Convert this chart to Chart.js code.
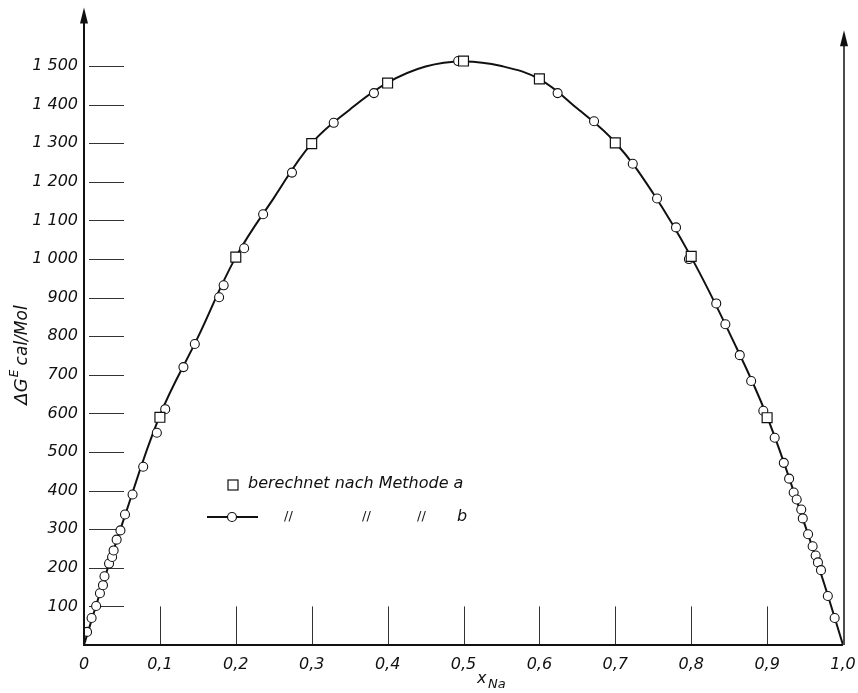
<!DOCTYPE html>
<html lang="de">
  <head>
    <meta charset="UTF-8" />
    <script src="https://cdn.jsdelivr.net/npm/chart.js@4.4.1/dist/chart.umd.min.js"></script>
    <title>Delta G E - x Na</title>
    <style>
      body { margin: 0; background: #fff; }
      #wrap { width: 858px; height: 693px; position: relative; }
    </style>
  </head>
  <body>
    <div id="wrap"><canvas id="chart"></canvas></div>

  <script>
    // Methode a (squares)
    const methodAX = [0.1, 0.2, 0.3, 0.4, 0.5, 0.6, 0.7, 0.8, 0.9];
    const methodAY = [590, 1005, 1299, 1456, 1513, 1467, 1301, 1007, 589];

    // Methode b (circles)
    const methodBX = [0.004, 0.010, 0.016, 0.021, 0.025, 0.027, 0.033, 0.037, 0.039, 0.043,
      0.048, 0.054, 0.064, 0.078, 0.096, 0.107, 0.131, 0.146, 0.178, 0.184,
      0.211, 0.236, 0.274, 0.329, 0.382, 0.493, 0.624, 0.672, 0.723, 0.755,
      0.780, 0.797, 0.833, 0.845, 0.864, 0.879, 0.895, 0.910, 0.922, 0.929,
      0.935, 0.939, 0.945, 0.947, 0.954, 0.960, 0.964, 0.967, 0.971, 0.980, 0.989];
    const methodBY = [34, 70, 101, 134, 155, 178, 211, 228, 245, 273,
      297, 338, 390, 462, 550, 611, 720, 780, 901, 932,
      1028, 1116, 1224, 1353, 1430, 1513, 1430, 1357, 1247, 1157,
      1082, 1000, 885, 831, 751, 684, 607, 537, 472, 431,
      395, 377, 351, 328, 287, 256, 232, 214, 194, 127, 70];

    // smooth curve
    const curveX = [0, 0.025, 0.05, 0.1, 0.15, 0.2, 0.25, 0.3, 0.35, 0.4, 0.45, 0.5,
      0.55, 0.6, 0.65, 0.7, 0.75, 0.8, 0.85, 0.9, 0.95, 0.975, 1];
    const curveY = [0, 160, 312, 595, 797, 1005, 1158, 1300, 1387, 1457, 1499, 1512,
      1500, 1466, 1390, 1302, 1170, 1005, 810, 592, 310, 160, 0];

    const xTicks = [0, 0.1, 0.2, 0.3, 0.4, 0.5, 0.6, 0.7, 0.8, 0.9, 1];
    const yTicks = [100, 200, 300, 400, 500, 600, 700, 800, 900, 1000, 1100, 1200, 1300, 1400, 1500];

    const FONT = '"DejaVu Sans", sans-serif';

    function pts(xs, ys) {
      return xs.map(function (x, i) { return { x: x, y: ys[i] }; });
    }

    function arrowUp(ctx, x, y) {
      ctx.beginPath();
      ctx.moveTo(x, y);
      ctx.lineTo(x - 4, y + 16);
      ctx.lineTo(x + 4, y + 16);
      ctx.closePath();
      ctx.fill();
    }

    const decor = {
      id: 'decor',
      beforeDatasetsDraw: function (chart) {
        const ctx = chart.ctx;
        const xs = chart.scales.x, ys = chart.scales.y;
        const a = chart.chartArea;
        ctx.save();
        ctx.strokeStyle = '#333';
        ctx.lineWidth = 1;
        // short y tick lines
        yTicks.forEach(function (v) {
          const py = Math.round(ys.getPixelForValue(v)) + 0.5;
          ctx.beginPath();
          ctx.moveTo(a.left + 5, py);
          ctx.lineTo(a.left + 40, py);
          ctx.stroke();
        });
        // short x tick lines, up to the 100 level
        xTicks.slice(1, -1).forEach(function (v) {
          const px = Math.round(xs.getPixelForValue(v)) + 0.5;
          ctx.beginPath();
          ctx.moveTo(px, a.bottom);
          ctx.lineTo(px, ys.getPixelForValue(100));
          ctx.stroke();
        });
        ctx.restore();
      },
      afterDraw: function (chart) {
        const ctx = chart.ctx;
        const xs = chart.scales.x, ys = chart.scales.y;
        const a = chart.chartArea;
        ctx.save();
        ctx.strokeStyle = '#111';
        ctx.fillStyle = '#111';
        // axes
        const leftTop = ys.getPixelForValue(1652);
        ctx.lineWidth = 2;
        ctx.beginPath();
        ctx.moveTo(a.left, leftTop + 10);
        ctx.lineTo(a.left, a.bottom);
        ctx.lineTo(a.right, a.bottom);
        ctx.stroke();
        arrowUp(ctx, a.left, leftTop);
        ctx.lineWidth = 1.5;
        const rightTop = ys.getPixelForValue(1593);
        ctx.beginPath();
        ctx.moveTo(a.right + 1, a.bottom);
        ctx.lineTo(a.right + 1, rightTop + 10);
        ctx.stroke();
        arrowUp(ctx, a.right + 1, rightTop);

        // y axis title
        ctx.save();
        ctx.translate(27, 355);
        ctx.rotate(-Math.PI / 2);
        ctx.textBaseline = 'alphabetic';
        ctx.font = 'italic 18px ' + FONT;
        const w1 = ctx.measureText('\u0394G').width;
        ctx.font = 'italic 12px ' + FONT;
        const w2 = ctx.measureText('E').width;
        ctx.font = 'italic 17px ' + FONT;
        const w3 = ctx.measureText(' cal/Mol').width;
        let sx = -(w1 + w2 + w3) / 2;
        ctx.font = 'italic 18px ' + FONT;
        ctx.fillText('\u0394G', sx, 0);
        ctx.font = 'italic 12px ' + FONT;
        ctx.fillText('E', sx + w1 + 1, -9);
        ctx.font = 'italic 17px ' + FONT;
        ctx.fillText(' cal/Mol', sx + w1 + w2, 0);
        ctx.restore();

        // x axis title
        ctx.textBaseline = 'alphabetic';
        ctx.font = 'italic 16px ' + FONT;
        ctx.fillText('x', 477, 683);
        ctx.font = 'italic 13px ' + FONT;
        ctx.fillText('Na', 488, 688);

        // legend
        ctx.lineWidth = 1.2;
        ctx.fillStyle = '#fff';
        ctx.fillRect(228, 480, 10, 10);
        ctx.strokeRect(228, 480, 10, 10);
        ctx.fillStyle = '#111';
        ctx.font = 'italic 16px ' + FONT;
        ctx.textBaseline = 'middle';
        ctx.fillText('berechnet nach Methode a', 248, 484);
        ctx.lineWidth = 2;
        ctx.beginPath();
        ctx.moveTo(207, 517);
        ctx.lineTo(258, 517);
        ctx.stroke();
        ctx.lineWidth = 1.2;
        ctx.beginPath();
        ctx.arc(232, 517, 4.5, 0, Math.PI * 2);
        ctx.fillStyle = '#fff';
        ctx.fill();
        ctx.stroke();
        ctx.fillStyle = '#111';
        ctx.fillText('b', 457, 517);
        ctx.font = '13px ' + FONT;
        ctx.fillText('//', 284, 517);
        ctx.fillText('//', 362, 517);
        ctx.fillText('//', 417, 517);
        ctx.restore();
      }
    };

    const chartEl = document.getElementById('chart');
    var deltaGChart = new Chart(chartEl, {
      type: 'scatter',
      data: {
        datasets: [{
          label: 'berechnet nach Methode a',
          data: pts(methodAX, methodAY),
          pointStyle: 'rect',
          pointRadius: 7,
          pointBackgroundColor: '#fff',
          pointBorderColor: '#111',
          pointBorderWidth: 1.2,
          showLine: false
        }, {
          label: 'berechnet nach Methode b',
          data: pts(methodBX, methodBY),
          pointStyle: 'circle',
          pointRadius: 4.5,
          pointBackgroundColor: '#fff',
          pointBorderColor: '#111',
          pointBorderWidth: 1.1,
          showLine: false
        }, {
          label: 'Kurve',
          data: pts(curveX, curveY),
          showLine: true,
          pointRadius: 0,
          borderColor: '#111',
          borderWidth: 2,
          tension: 0.4
        }]
      },
      options: {
        responsive: true,
        maintainAspectRatio: false,
        animation: false,
        layout: { padding: 0 },
        plugins: {
          legend: { display: false },
          tooltip: { enabled: false }
        },
        scales: {
          x: {
            type: 'linear',
            min: 0,
            max: 1,
            afterFit: function (s) { s.height = 48; s.paddingLeft = 0; s.paddingRight = 15; },
            afterBuildTicks: function (s) { s.ticks = xTicks.map(function (v) { return { value: v }; }); },
            grid: { display: false, drawTicks: false },
            border: { display: false },
            ticks: {
              padding: 10,
              color: '#111',
              font: { family: FONT, size: 16, style: 'italic' },
              maxRotation: 0,
              callback: function (v) { return v === 0 ? '0' : v.toFixed(1).replace('.', ','); }
            }
          },
          y: {
            type: 'linear',
            min: 0,
            max: 1650,
            afterFit: function (s) { s.width = 84; s.paddingTop = 5; s.paddingBottom = 0; },
            afterBuildTicks: function (s) { s.ticks = yTicks.map(function (v) { return { value: v }; }); },
            grid: { display: false, drawTicks: false },
            border: { display: false },
            ticks: {
              padding: 6,
              color: '#111',
              font: { family: FONT, size: 16, style: 'italic' },
              callback: function (v) { return v >= 1000 ? '1 ' + String(v).slice(1) : String(v); }
            }
          }
        }
      },
      plugins: [decor]
    });
  </script>
  </body>
</html>
